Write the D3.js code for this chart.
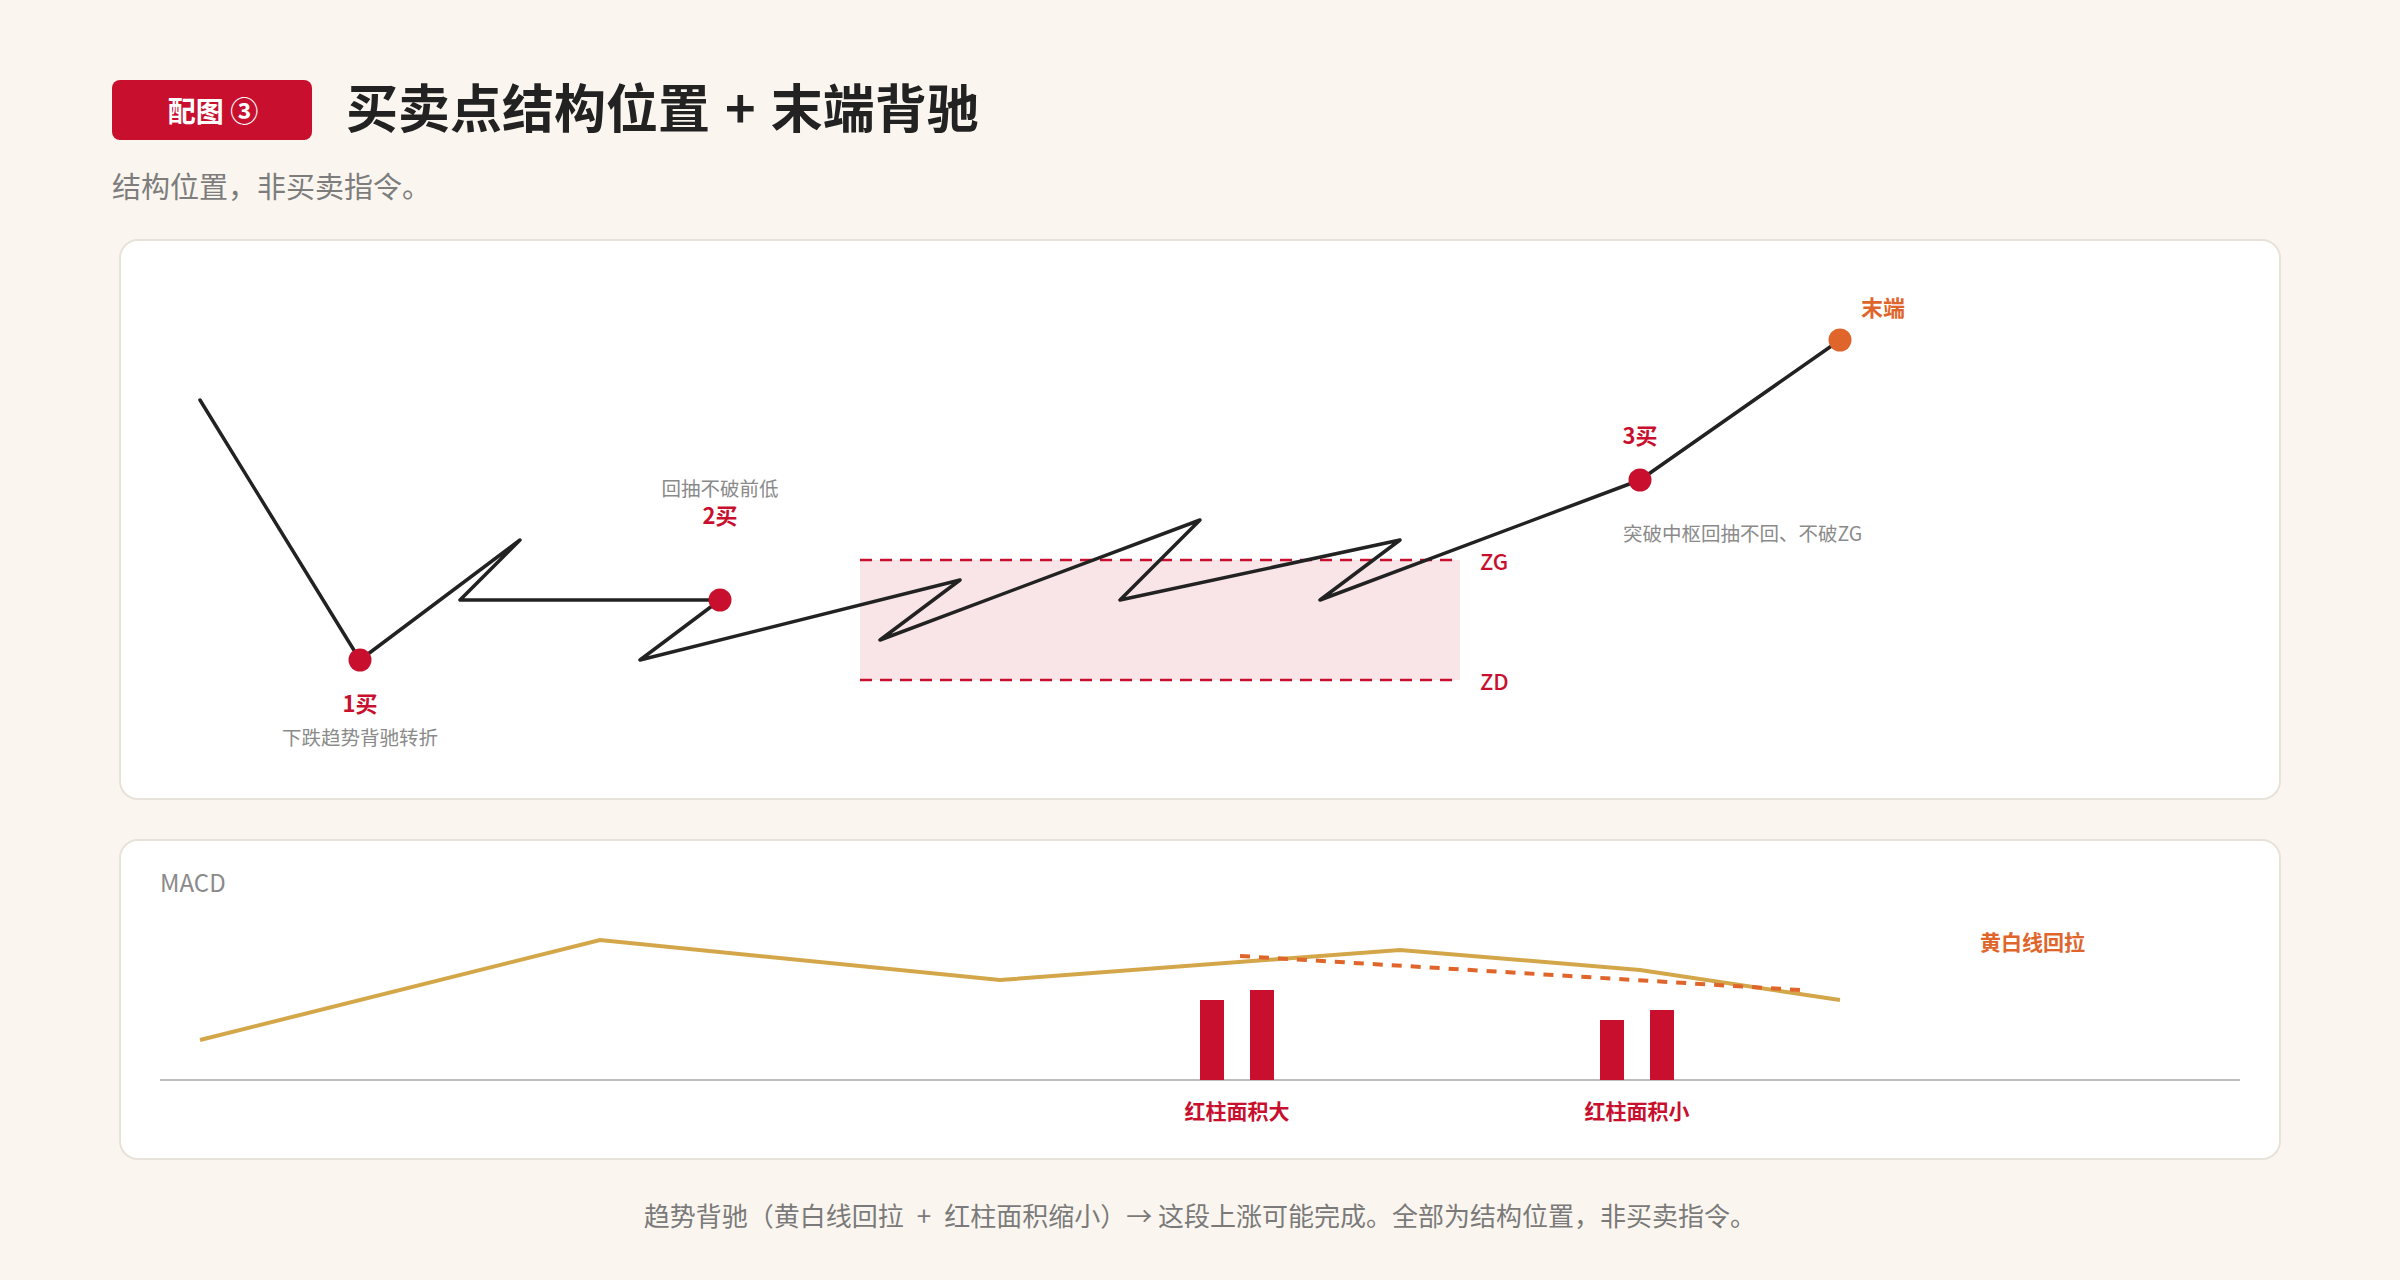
<!DOCTYPE html>
<html>
<head>
<meta charset="utf-8">
<script src="https://cdn.jsdelivr.net/npm/d3@7"></script>
<style>
  html, body { margin: 0; padding: 0; background: #FAF6EF; }
  svg { display: block; font-family: "Noto Sans CJK SC", "Noto Sans", sans-serif; }
</style>
</head>
<body>
<div id="chart"></div>
<script>
// price path (time units, price units)
var pathT     = [5, 9, 13, 11.5, 18, 16, 24, 22, 30, 28, 35, 33, 41, 46];
var pathPrice = [75, 10, 40, 25, 25, 10, 30, 15, 45, 25, 40, 25, 55, 90];

// pivot zone
var pivotT  = [21.5, 36.5];
var pivotZG = 35;
var pivotZD = 5;

// marked points: index into the path
var markIdx   = [1, 4, 12, 13];
var markName  = ['1买', '2买', '3买', '末端'];
var markNote  = ['下跌趋势背驰转折', '回抽不破前低', '突破中枢回抽不回、不破ZG', ''];

// MACD
var difT   = [5, 15, 25, 35, 41, 46];
var difV   = [40, 140, 100, 130, 110, 80];
var barT   = [30, 31.25, 40, 41.25];
var barV   = [80, 90, 60, 70];
var trendT = [31, 45];
var trendV = [124, 90];
var barGroupLabel = ['红柱面积大', '红柱面积小'];

var RED = '#C8102E', ORANGE = '#E0652B', GOLD = '#D4A64A', INK = '#222',
    GRAY = '#8a8a8a', BORDER = '#E7E2DA';

var W = 2400, H = 1280;
var svg = d3.select('#chart').append('svg')
  .attr('width', W).attr('height', H);

var x = d3.scaleLinear().domain([0, 60]).range([0, 2400]);
var yP = d3.scaleLinear().domain([0, 100]).range([700, 300]);
var yM = d3.scaleLinear().domain([0, 200]).range([1080, 880]);

// Header
svg.append('rect')
  .attr('x', 112).attr('y', 80).attr('width', 200).attr('height', 60)
  .attr('rx', 8).style('fill', RED);
svg.append('text')
  .attr('x', 213).attr('y', 110)
  .attr('text-anchor', 'middle').attr('dominant-baseline', 'central')
  .style('fill', '#fff').style('font-size', '28px').style('font-weight', 700)
  .text('配图 ③');
svg.append('text')
  .attr('x', 346).attr('y', 105)
  .attr('dominant-baseline', 'central')
  .style('fill', INK).style('font-size', '52px').style('font-weight', 700)
  .text('买卖点结构位置 \u200A+\u200A 末端背驰');
svg.append('text')
  .attr('x', 112).attr('y', 185)
  .attr('dominant-baseline', 'central')
  .style('fill', '#7d7d7d').style('font-size', '29px')
  .text('结构位置，非买卖指令。');

// Cards
svg.append('rect')
  .attr('x', 120).attr('y', 240).attr('width', 2160).attr('height', 559)
  .attr('rx', 18)
  .style('fill', '#fff').style('stroke', BORDER).style('stroke-width', 2);
svg.append('rect')
  .attr('x', 120).attr('y', 840).attr('width', 2160).attr('height', 319)
  .attr('rx', 18)
  .style('fill', '#fff').style('stroke', BORDER).style('stroke-width', 2);

// Pivot zone
svg.append('rect')
  .attr('x', x(pivotT[0])).attr('y', yP(pivotZG))
  .attr('width', x(pivotT[1]) - x(pivotT[0]))
  .attr('height', yP(pivotZD) - yP(pivotZG))
  .style('fill', '#F9E5E8');
[pivotZG, pivotZD].forEach(function(v, i) {
  svg.append('line')
    .attr('x1', x(pivotT[0])).attr('x2', x(pivotT[1]))
    .attr('y1', yP(v)).attr('y2', yP(v))
    .style('stroke', RED).style('stroke-width', 2.5)
    .style('stroke-dasharray', '12,8');
  svg.append('text')
    .attr('x', x(pivotT[1]) + 20).attr('y', yP(v))
    .attr('dominant-baseline', 'central')
    .style('fill', RED).style('font-size', '22px').style('font-weight', 500)
    .text(i === 0 ? 'ZG' : 'ZD');
});

// Price path
var pts = pathT.map(function(t, i) { return [x(t), yP(pathPrice[i])]; });
svg.append('path')
  .attr('d', d3.line()(pts))
  .style('fill', 'none').style('stroke', INK).style('stroke-width', 3.5)
  .style('stroke-linejoin', 'round').style('stroke-linecap', 'round');

// Marked points
markIdx.forEach(function(idx, i) {
  var cx = x(pathT[idx]), cy = yP(pathPrice[idx]);
  var isEnd = i === 3;
  svg.append('circle')
    .attr('cx', cx).attr('cy', cy).attr('r', 11.5)
    .style('fill', isEnd ? ORANGE : RED);

  var nameG = svg.append('text')
    .attr('dominant-baseline', 'central')
    .style('font-size', '22px').style('font-weight', 700)
    .style('fill', isEnd ? ORANGE : RED)
    .text(markName[i]);
  var noteG = svg.append('text')
    .attr('dominant-baseline', 'central')
    .style('font-size', '19.5px').style('fill', GRAY)
    .text(markNote[i]);

  if (i === 0) {
    nameG.attr('x', cx).attr('y', cy + 42).attr('text-anchor', 'middle');
    noteG.attr('x', cx).attr('y', cy + 76).attr('text-anchor', 'middle');
  } else if (i === 1) {
    nameG.attr('x', cx).attr('y', cy - 86).attr('text-anchor', 'middle');
    noteG.attr('x', cx).attr('y', cy - 113).attr('text-anchor', 'middle');
  } else if (i === 2) {
    nameG.attr('x', cx).attr('y', cy - 46).attr('text-anchor', 'middle');
    noteG.attr('x', cx - 17).attr('y', cy + 52);
  } else {
    nameG.attr('x', cx + 21).attr('y', cy - 34);
  }
});

// MACD panel
svg.append('text')
  .attr('x', 160).attr('y', 881)
  .attr('dominant-baseline', 'central')
  .style('fill', GRAY).style('font-size', '24px')
  .text('MACD');

svg.append('line')
  .attr('x1', 160).attr('x2', 2240)
  .attr('y1', yM(0)).attr('y2', yM(0))
  .style('stroke', '#bdbdbd').style('stroke-width', 2);

svg.selectAll('rect.bar').data(barV).enter().append('rect')
  .attr('class', 'bar')
  .attr('x', function(d, i) { return x(barT[i]); })
  .attr('y', function(d) { return yM(d); })
  .attr('width', x(0.6) - x(0))
  .attr('height', function(d) { return yM(0) - yM(d); })
  .style('fill', RED);

svg.append('path')
  .attr('d', d3.line()(difT.map(function(t, i) { return [x(t), yM(difV[i])]; })))
  .style('fill', 'none').style('stroke', GOLD).style('stroke-width', 4);

svg.append('path')
  .attr('d', d3.line()(trendT.map(function(t, i) { return [x(t), yM(trendV[i])]; })))
  .style('fill', 'none').style('stroke', ORANGE).style('stroke-width', 4)
  .style('stroke-dasharray', '10,9');

svg.append('text')
  .attr('x', 1980).attr('y', 941)
  .attr('dominant-baseline', 'central')
  .style('fill', ORANGE).style('font-size', '21px').style('font-weight', 700)
  .text('黄白线回拉');

barGroupLabel.forEach(function(label, i) {
  var left = x(barT[i * 2]), right = x(barT[i * 2 + 1] + 0.6);
  svg.append('text')
    .attr('x', (left + right) / 2).attr('y', 1110)
    .attr('text-anchor', 'middle').attr('dominant-baseline', 'central')
    .style('fill', RED).style('font-size', '21px').style('font-weight', 700)
    .text(label);
});

// Footer
svg.append('text')
  .attr('x', 1200).attr('y', 1214)
  .attr('text-anchor', 'middle').attr('dominant-baseline', 'central')
  .style('fill', '#7a7a7a').style('font-size', '26px')
  .text('趋势背驰（黄白线回拉\u2002+\u2002红柱面积缩小）→ 这段上涨可能完成。全部为结构位置，非买卖指令。');
</script>
</body>
</html>
